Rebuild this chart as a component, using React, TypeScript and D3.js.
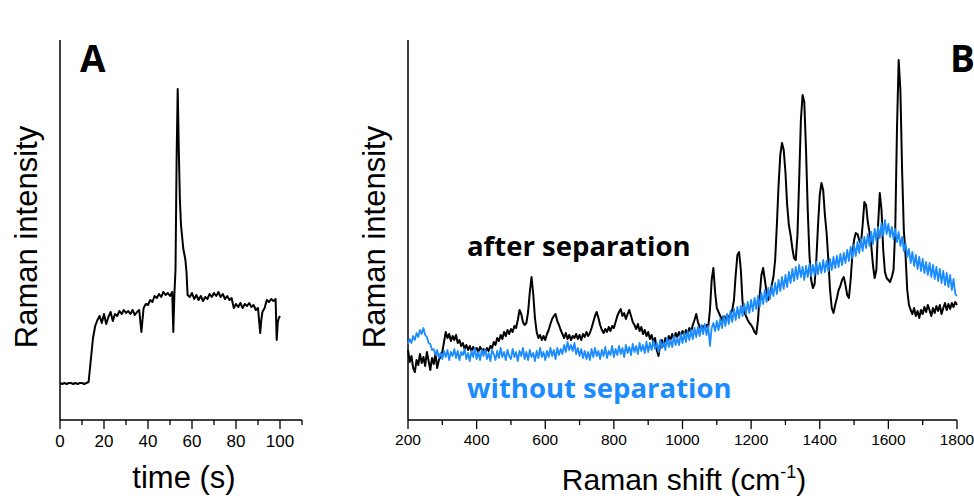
import React from 'react';
import * as d3 from 'd3';

// ---------- Panel A: intensity vs time ----------
const timeA = [
  0, 1, 2, 3, 4, 5, 6, 7, 8, 9, 10, 11, 12, 13, 14, 15, 16, 17, 18, 19, 20, 21, 22, 23, 24, 25, 26, 27, 28, 29, 30,
  31, 32, 33, 34, 35, 36, 37, 37.5, 38, 39, 40, 41, 42, 43, 44, 45, 46, 47, 48, 49, 50, 51, 51.5, 52, 52.5, 53, 53.5,
  54, 54.5, 55, 56, 57, 57.5, 58, 59, 60, 61, 62, 63, 64, 65, 66, 67, 68, 69, 70, 71, 72, 73, 74, 75, 76, 77, 78,
  79, 80, 81, 82, 83, 84, 85, 86, 87, 88, 89, 90, 91, 91.5, 92, 93, 94, 95, 96, 97, 98, 98.5, 99, 99.5, 100,
];
const intensityA = [
  37, 36, 37, 36, 37, 37, 36, 37, 36, 37, 37, 36, 37, 38, 60, 82, 94, 100, 104, 97, 106, 96, 103, 108, 99, 106, 104, 109, 106, 110, 107,
  109, 106, 110, 105, 108, 110, 88, 100, 112, 116, 115, 120, 118, 124, 122, 126, 123, 128, 125, 127, 124, 128, 88, 126, 150, 260, 331,
  270, 220, 195, 172, 160, 148, 125, 123, 127, 121, 125, 120, 124, 119, 123, 121, 126, 123, 127, 124, 128, 123, 126, 121, 124, 120, 122,
  112, 116, 113, 117, 112, 116, 114, 117, 113, 115, 110, 112, 87, 100, 108, 112, 120, 118, 121, 119, 121, 80, 98, 102, 104,
];
const majorTicksA = [0, 20, 40, 60, 80, 100];
const minorTicksA = [10, 30, 50, 70, 90, 110];

// ---------- Panel B: Raman spectra (200..1800 cm-1, step 5) ----------
const shiftStart = 200;
const shiftStep = 5;
const afterSeparation = [
  70, 58, 64, 52, 48, 60, 55, 66, 57, 63, 54, 68, 59, 50, 62, 56, 66, 52, 60, 64,
  68, 78, 88, 82, 86, 79, 84, 80, 85, 77, 80, 74, 77, 71, 75, 70, 74, 69, 73, 70,
  72, 68, 73, 70, 71, 67, 72, 69, 74, 72, 78, 75, 82, 79, 85, 81, 88, 84, 90, 86,
  91, 88, 94, 92, 100, 110, 106, 98, 95, 97, 108, 128, 143, 126, 102, 88, 82, 85, 80, 84,
  80, 86, 90, 96, 101, 104, 106, 99, 95, 90, 86, 82, 87, 81, 85, 80, 84, 82, 86, 81,
  85, 80, 86, 83, 88, 84, 87, 92, 98, 104, 108, 102, 95, 90, 87, 91, 88, 93, 89, 94,
  92, 98, 104, 108, 111, 104, 107, 101, 106, 110, 104, 98, 95, 91, 96, 89, 93, 86, 90, 84,
  88, 81, 85, 78, 82, 70, 64, 76, 80, 74, 82, 78, 84, 80, 86, 81, 87, 83, 88, 84,
  89, 85, 90, 86, 92, 88, 95, 100, 106, 98, 93, 90, 94, 91, 95, 93, 110, 140, 152, 128,
  112, 108, 104, 100, 104, 101, 105, 102, 106, 110, 120, 145, 165, 168, 150, 118, 108, 104, 100, 97,
  95, 92, 88, 86, 100, 125, 145, 152, 140, 128, 120, 125, 135, 143, 160, 195, 235, 265, 277, 270,
  248, 215, 195, 185, 172, 162, 160, 185, 240, 300, 325, 318, 270, 210, 165, 140, 132, 136, 160, 195,
  225, 237, 230, 205, 187, 160, 130, 112, 107, 115, 122, 130, 134, 140, 143, 135, 125, 122, 140, 165,
  180, 187, 186, 180, 176, 195, 218, 215, 198, 188, 175, 155, 142, 150, 195, 227, 210, 170, 148, 142,
  140, 138, 143, 150, 190, 290, 360, 330, 250, 190, 165, 130, 115, 110, 106, 112, 104, 109, 102, 110,
  106, 113, 108, 115, 110, 104, 112, 107, 114, 109, 115, 106, 112, 117, 110, 116, 111, 117, 113, 118, 115,
];
const withoutSeparation = [
  76, 81, 77, 84, 80, 87, 83, 90, 86, 92, 85, 83, 77, 76, 70, 71, 65, 70, 62, 67,
  61, 69, 63, 70, 60, 68, 64, 71, 62, 69, 60, 68, 65, 71, 61, 67, 59, 69, 63, 72,
  61, 68, 60, 70, 64, 71, 61, 67, 59, 70, 66, 60, 69, 62, 72, 63, 68, 60, 70, 64,
  61, 71, 63, 68, 59, 69, 64, 72, 61, 68, 60, 70, 63, 67, 59, 69, 62, 72, 63, 68,
  60, 69, 63, 72, 64, 70, 61, 72, 65, 71, 66, 75, 68, 78, 70, 75, 69, 77, 66, 72,
  64, 71, 62, 69, 61, 68, 60, 71, 63, 72, 64, 69, 61, 70, 64, 73, 62, 69, 65, 74,
  63, 71, 65, 74, 66, 72, 63, 75, 67, 73, 65, 76, 68, 74, 66, 77, 69, 75, 67, 78,
  68, 77, 70, 79, 71, 77, 68, 80, 72, 78, 70, 82, 73, 80, 73, 84, 75, 82, 75, 86,
  77, 87, 78, 89, 80, 90, 81, 92, 83, 93, 84, 95, 86, 96, 85, 94, 74, 92, 97, 89,
  99, 90, 101, 92, 104, 94, 106, 96, 109, 98, 111, 100, 113, 102, 114, 104, 116, 106, 118, 107,
  120, 109, 122, 111, 124, 113, 127, 116, 130, 118, 132, 121, 134, 124, 137, 126, 140, 129, 143, 131,
  145, 133, 148, 137, 151, 139, 153, 141, 155, 143, 153, 140, 154, 143, 156, 144, 155, 145, 158, 146,
  157, 147, 160, 148, 159, 149, 161, 150, 163, 152, 164, 153, 166, 155, 167, 157, 170, 159, 173, 162,
  175, 164, 178, 167, 181, 169, 183, 172, 186, 174, 188, 176, 191, 179, 193, 182, 197, 184, 200, 186,
  196, 183, 193, 181, 191, 178, 188, 174, 183, 169, 177, 163, 171, 157, 168, 154, 165, 151, 163, 149,
  161, 147, 158, 145, 157, 143, 155, 141, 153, 139, 151, 137, 149, 135, 147, 133, 145, 130, 141, 126, 124,
];
const majorTicksB = [200, 400, 600, 800, 1000, 1200, 1400, 1600, 1800];
const minorTicksB = [300, 500, 700, 900, 1100, 1300, 1500, 1700];

const BLUE = '#1b8cff';
const SANS = '"Liberation Sans", Arial, sans-serif';
const BOLD = '"Open Sans", "Noto Sans", sans-serif';

export default function App() {
  const yScale = d3.scaleLinear().domain([0, 380]).range([420, 40]);
  const xA = d3.scaleLinear().domain([0, 110]).range([60, 302]);
  const xB = d3.scaleLinear().domain([200, 1800]).range([408, 957]);

  const lineA = d3
    .line<number>()
    .x((_, i) => xA(timeA[i]))
    .y((d) => yScale(d));
  const lineB = d3
    .line<number>()
    .x((_, i) => xB(shiftStart + i * shiftStep))
    .y((d) => yScale(d));

  const y0 = yScale(0);
  const yTop = yScale(380);

  return (
    <svg
      width={974}
      height={498}
      style={{ position: 'absolute', left: 0, top: 0, background: '#fff' }}
      fontFamily={SANS}
    >
      <rect width={974} height={498} fill="#fff" />
      {/* Panel A */}
      <g>
        <line x1={xA(0)} x2={xA(0)} y1={yTop} y2={y0} stroke="#000" strokeWidth={1.5} />
        <line x1={xA(0)} x2={xA(110)} y1={y0} y2={y0} stroke="#000" strokeWidth={1.5} />
        {majorTicksA.map((t) => (
          <g key={'ma' + t}>
            <line x1={xA(t)} x2={xA(t)} y1={y0} y2={y0 + 9} stroke="#000" strokeWidth={1.3} />
            <text x={xA(t)} y={447} textAnchor="middle" fontSize={17}>
              {t}
            </text>
          </g>
        ))}
        {minorTicksA.map((t) => (
          <line key={'mi' + t} x1={xA(t)} x2={xA(t)} y1={y0} y2={y0 + 5} stroke="#000" strokeWidth={1.3} />
        ))}
        <path d={lineA(intensityA) || ''} fill="none" stroke="#000" strokeWidth={2} strokeLinejoin="round" />
        <text x={80} y={72} fontFamily={BOLD} fontWeight={700} fontSize={37}>
          A
        </text>
        <text x={184} y={488} textAnchor="middle" fontSize={31}>
          time (s)
        </text>
        <text transform="translate(37,237) rotate(-90)" textAnchor="middle" fontSize={31}>
          Raman intensity
        </text>
      </g>

      {/* Panel B */}
      <g>
        <line x1={xB(200)} x2={xB(200)} y1={yTop} y2={y0} stroke="#000" strokeWidth={1.5} />
        <line x1={xB(200)} x2={xB(1800)} y1={y0} y2={y0} stroke="#000" strokeWidth={1.5} />
        {majorTicksB.map((t) => (
          <g key={'mb' + t}>
            <line x1={xB(t)} x2={xB(t)} y1={y0} y2={y0 + 9} stroke="#000" strokeWidth={1.3} />
            <text x={xB(t)} y={445} textAnchor="middle" fontSize={15.5}>
              {t}
            </text>
          </g>
        ))}
        {minorTicksB.map((t) => (
          <line key={'nb' + t} x1={xB(t)} x2={xB(t)} y1={y0} y2={y0 + 5} stroke="#000" strokeWidth={1.3} />
        ))}
        <path d={lineB(afterSeparation) || ''} fill="none" stroke="#000" strokeWidth={2} strokeLinejoin="round" />
        <path d={lineB(withoutSeparation) || ''} fill="none" stroke={BLUE} strokeWidth={1.8} strokeLinejoin="round" />
        <text x={950} y={72} fontFamily={BOLD} fontWeight={700} fontSize={37}>
          B
        </text>
        <text x={467} y={256} fontFamily={BOLD} fontWeight={700} fontSize={27.5}>
          after separation
        </text>
        <text x={467} y={398} fontFamily={BOLD} fontWeight={700} fontSize={27.5} fill={BLUE}>
          without separation
        </text>
        <text x={684} y={490} textAnchor="middle" fontSize={30}>
          Raman shift (cm
          <tspan fontSize={18} dy={-12}>
            -1
          </tspan>
          <tspan dy={12}>)</tspan>
        </text>
        <text transform="translate(385,237) rotate(-90)" textAnchor="middle" fontSize={31}>
          Raman intensity
        </text>
      </g>
    </svg>
  );
}
